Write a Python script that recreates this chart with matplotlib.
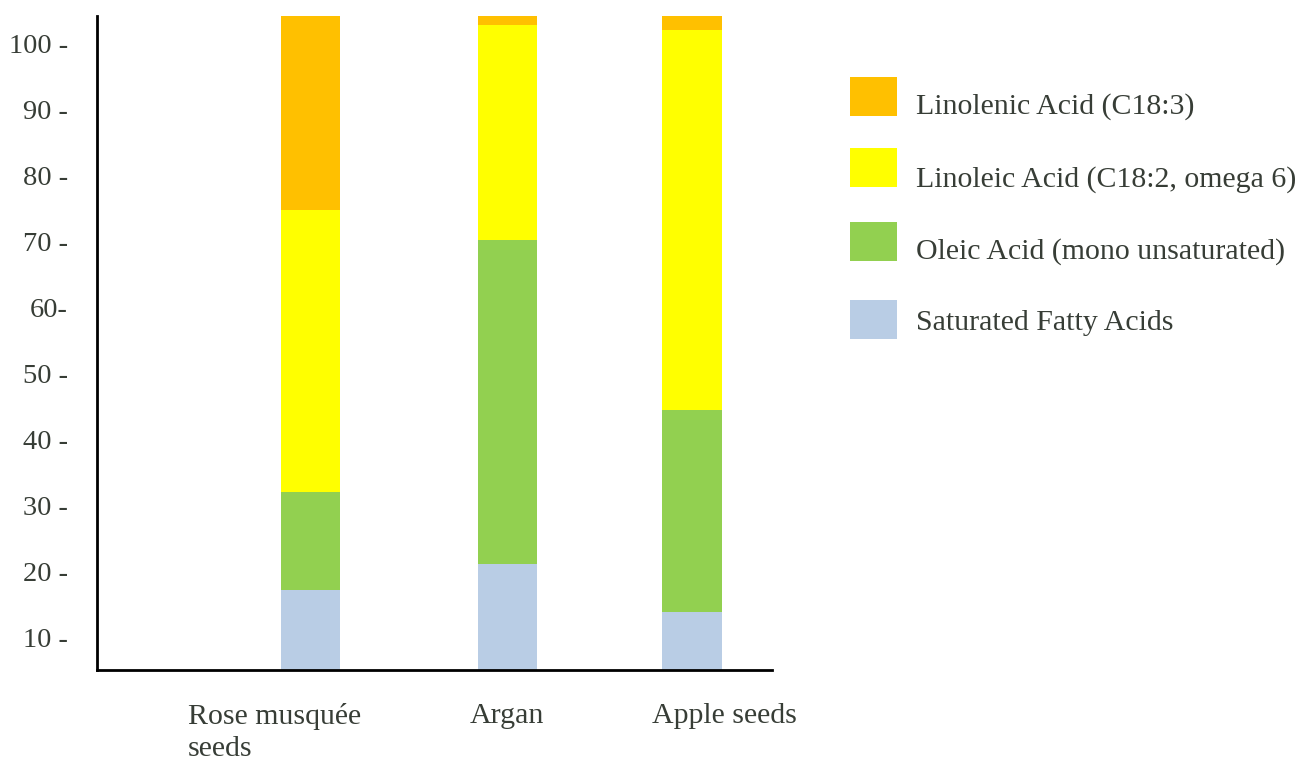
import numpy as np
import matplotlib.pyplot as plt
from matplotlib.patches import Rectangle

# Data (cumulative stacking starts at 0, axis is cut at 5)
oils = ["Rose musquée\nseeds", "Argan", "Apple seeds"]
saturated = [17.1, 21.1, 13.8]
oleic = [14.9, 49.1, 30.6]
linoleic = [42.8, 32.7, 57.7]
linolenic = [29.4, 1.3, 2.1]

series = [
    ("Saturated Fatty Acids", saturated, "#B9CDE5"),
    ("Oleic Acid (mono unsaturated)", oleic, "#92D050"),
    ("Linoleic Acid (C18:2, omega 6)", linoleic, "#FFFF00"),
    ("Linolenic Acid (C18:3)", linolenic, "#FFC000"),
]

yticks = [10, 20, 30, 40, 50, 60, 70, 80, 90, 100]
ytick_labels = ["10 -", "20 -", "30 -", "40 -", "50 -", "60-", "70 -", "80 -", "90 -", "100 -"]

txt_color = "#373d36"
plt.rcParams['font.family'] = ['Liberation Serif', 'DejaVu Serif']

W, H = 1304, 760
fig = plt.figure(figsize=(W / 100, H / 100), dpi=100)
ax = fig.add_axes([97 / W, 90 / H, 675 / W, 654 / H])

x = np.array([0, 1.03, 2])
bottom = np.zeros(len(oils))
for name, vals, color in series:
    ax.bar(x, vals, width=0.31, bottom=bottom, color=color, label=name, linewidth=0)
    bottom += np.array(vals)

ax.set_xlim(-1.123, 2.42)
ax.set_ylim(5, 104.2)

ax.spines['top'].set_visible(False)
ax.spines['right'].set_visible(False)
for s in ('left', 'bottom'):
    ax.spines[s].set_linewidth(2)
    ax.spines[s].set_color('black')

ax.set_yticks(yticks)
ax.set_yticklabels(ytick_labels, fontsize=20.5, color=txt_color)
ax.tick_params(axis='y', length=0, pad=21)
ax.set_xticks([])

# category labels, slightly offset from the bars as in the original
label_offsets = [-0.19, 0.0, 0.17]
for xi, lab, off in zip(x, oils, label_offsets):
    ax.text(xi + off, -0.05, lab, transform=ax.get_xaxis_transform(),
            ha='center', va='top', multialignment='left',
            fontsize=21.5, color=txt_color, linespacing=1.3)

# legend drawn by hand (pixel layout of the original)
leg_tops = [77, 148, 222, 300]
leg_baselines = [114, 187, 259, 330]
for top, base, (name, _, color) in zip(leg_tops, leg_baselines, series[::-1]):
    fig.add_artist(Rectangle((850 / W, 1 - (top + 39) / H), 47 / W, 39 / H,
                             transform=fig.transFigure, color=color, linewidth=0))
    fig.text(916 / W, 1 - base / H, name, fontsize=21.5, color=txt_color,
             ha='left', va='baseline')

fig.savefig("out.png", dpi=100)
